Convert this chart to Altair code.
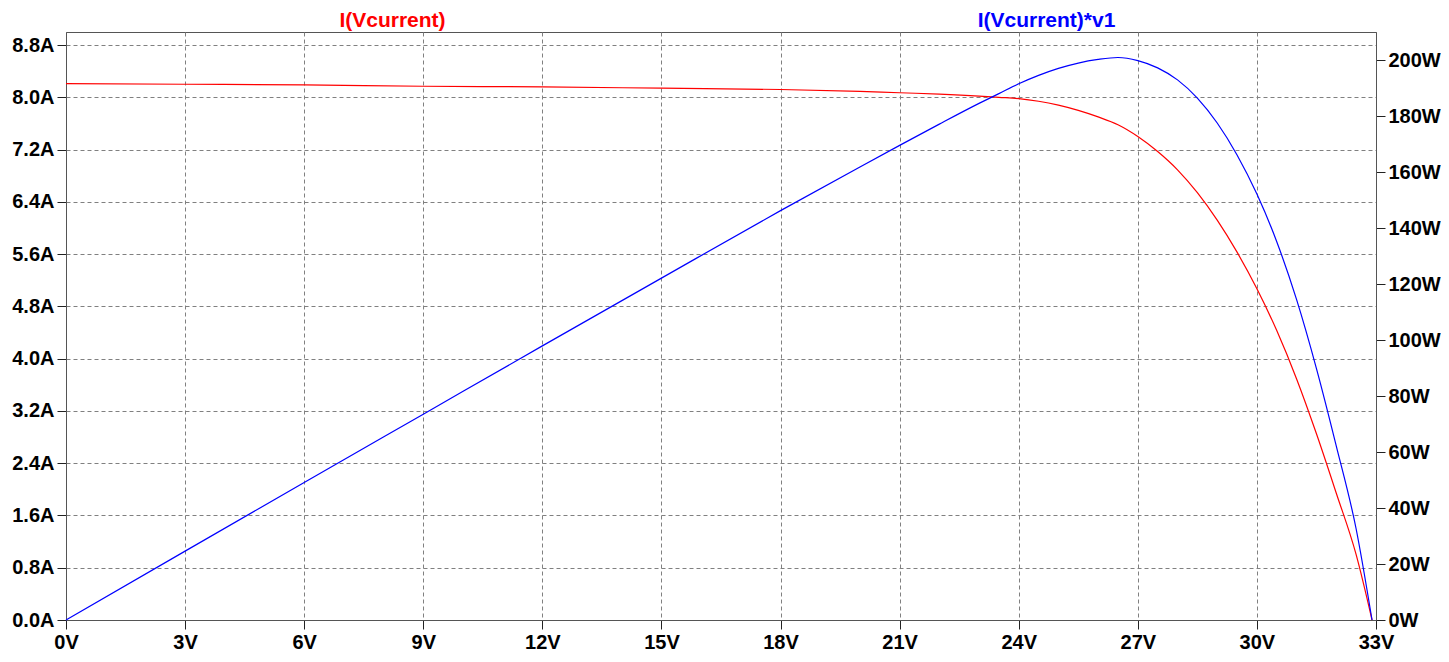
import altair as alt
import pandas as pd

# Voltage sweep (V)
volts = [0, 3, 6, 9, 12, 15, 18, 20, 21, 22, 23, 23.5, 24, 24.5, 25, 25.5, 26,
         26.5, 27, 27.5, 28, 28.5, 29, 29.5, 30, 30.5, 31, 31.5, 32, 32.5, 32.9]
# I(Vcurrent) in A
current = [8.21, 8.20, 8.19, 8.17, 8.16, 8.14, 8.12, 8.09, 8.07, 8.05, 8.02, 8.00,
           7.98, 7.94, 7.88, 7.80, 7.70, 7.58, 7.40, 7.17, 6.89, 6.54, 6.12, 5.63,
           5.07, 4.43, 3.69, 2.85, 1.94, 1.00, 0.0]
# I(Vcurrent)*v1 in W
power = [0.0, 24.6, 49.1, 73.5, 97.9, 122.1, 146.2, 161.8, 169.5, 177.1, 184.5,
         188.0, 191.5, 194.5, 197.0, 198.9, 200.2, 200.9, 199.8, 197.2, 192.9,
         186.4, 177.5, 166.1, 152.1, 135.1, 114.4, 89.8, 62.1, 32.5, 0.0]

x_ticks = list(range(0, 34, 3))
i_ticks = [0.0, 0.8, 1.6, 2.4, 3.2, 4.0, 4.8, 5.6, 6.4, 7.2, 8.0, 8.8]
p_ticks = list(range(0, 201, 20))

df = pd.DataFrame({"V": volts, "I": current, "P": power})

FONT = "Liberation Sans"
W, H = 1310, 588

xenc = alt.X(
    "V:Q",
    scale=alt.Scale(domain=[0, 33], nice=False, zero=False),
    axis=alt.Axis(values=x_ticks, labelExpr="datum.value + 'V'", title=None,
                  grid=True, labelFlush=False, labelOverlap=False),
)

line_i = alt.Chart(df).mark_line(color="#ff0000", strokeWidth=1.2, interpolate="monotone").encode(
    x=xenc,
    y=alt.Y("I:Q", scale=alt.Scale(domain=[0, 9.0], nice=False),
            axis=alt.Axis(values=i_ticks, labelExpr="format(datum.value, '.1f') + 'A'",
                          title=None, grid=True, orient="left", labelFlush=False,
                          labelOverlap=False)),
)

line_p = alt.Chart(df).mark_line(color="#0000ff", strokeWidth=1.2, interpolate="monotone").encode(
    x=xenc,
    y=alt.Y("P:Q", scale=alt.Scale(domain=[0, 210], nice=False),
            axis=alt.Axis(values=p_ticks, labelExpr="datum.value + 'W'",
                          title=None, grid=False, orient="right", labelFlush=False,
                          labelOverlap=False)),
)

titles = pd.DataFrame({"t": ["I(Vcurrent)", "I(Vcurrent)*v1"]})

title_i = alt.Chart(titles).transform_filter(alt.datum.t == "I(Vcurrent)").mark_text(
    font=FONT, fontSize=21, fontWeight="bold", color="#ff0000", align="center",
    baseline="alphabetic").encode(text="t:N", x=alt.value(326.5), y=alt.value(-5.5))

title_p = alt.Chart(titles).transform_filter(alt.datum.t == "I(Vcurrent)*v1").mark_text(
    font=FONT, fontSize=21, fontWeight="bold", color="#0000ff", align="center",
    baseline="alphabetic").encode(text="t:N", x=alt.value(980.5), y=alt.value(-5.5))

chart = alt.layer(line_i, line_p, title_i, title_p).resolve_scale(y="independent").properties(
    width=W, height=H,
    autosize=alt.AutoSizeParams(type="none"),
    padding={"left": 58, "top": 24, "right": 65, "bottom": 34},
    background="white",
).configure_view(
    stroke="#555555", strokeWidth=1
).configure_axis(
    labelFont=FONT, labelFontSize=20, labelFontWeight="bold", labelColor="#000000",
    tickColor="#222222", tickSize=9, tickWidth=1, labelPadding=3,
    domainColor="#555555", domainWidth=1,
    gridColor="#808080", gridDash=[4, 3], gridOpacity=1, gridWidth=1,
)

chart.save("out.html", embed_options={"renderer": "svg", "actions": False})
